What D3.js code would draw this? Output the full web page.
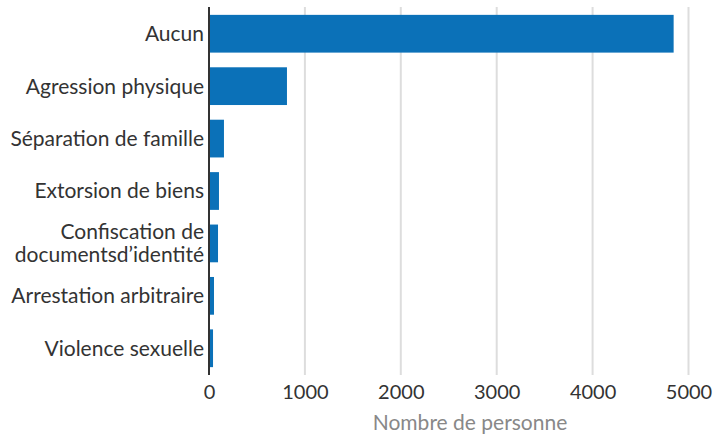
<!DOCTYPE html>
<html>
<head>
<meta charset="utf-8">
<script src="https://cdn.jsdelivr.net/npm/d3@7"></script>
<style>
  body { margin: 0; background: #fff; }
  text { font-family: Lato, "Open Sans", sans-serif; }
</style>
</head>
<body>
<script>
// data
const categories = ["Aucun", "Agression physique", "Séparation de famille", "Extorsion de biens",
  "Confiscation de\ndocumentsd’identité", "Arrestation arbitraire", "Violence sexuelle"];
const values = [4845, 813, 156, 104, 94, 52, 42];
const xTicks = [0, 1000, 2000, 3000, 4000, 5000];

let canvasW = 718;
let canvasH = 438;
let left = 209;
let right = 688.5;

let svg = d3.select("body")
  .append("svg")
    .attr("width", canvasW)
    .attr("height", canvasH);

let xScale = d3.scaleLinear()
  .domain([0, 5000])
  .range([left, right]);

let yScale = d3.scaleBand()
  .domain(categories)
  .range([7, 375])
  .paddingInner(0.28)
  .paddingOuter(0.15);

// gridlines
svg.append("g")
  .selectAll("line")
  .data(xTicks.slice(1))
  .enter()
  .append("line")
    .attr("x1", d => xScale(d))
    .attr("x2", d => xScale(d))
    .attr("y1", 7)
    .attr("y2", 375)
    .attr("stroke", "#dddddd")
    .attr("stroke-width", 2);

// bars
svg.append("g")
  .selectAll("rect")
  .data(values)
  .enter()
  .append("rect")
    .attr("x", xScale(0))
    .attr("y", (d, i) => yScale(categories[i]))
    .attr("width", d => xScale(d) - xScale(0))
    .attr("height", yScale.bandwidth())
    .attr("fill", "#0b71b8");

// y axis line
svg.append("line")
  .attr("x1", left).attr("x2", left)
  .attr("y1", 7).attr("y2", 375)
  .attr("stroke", "#333")
  .attr("stroke-width", 2);

// category labels
const labels = svg.append("g")
  .selectAll("text")
  .data(categories)
  .enter()
  .append("text")
    .attr("text-anchor", "end")
    .attr("font-size", "21px")
    .attr("fill", "#333");

labels.each(function(d) {
  let lines = d.split("\n");
  let cy = yScale(d) + yScale.bandwidth() / 2;
  let lh = 23;
  lines.forEach((l, j) => {
    d3.select(this).append("tspan")
      .attr("x", 204)
      .attr("y", cy + (j - (lines.length - 1) / 2) * lh)
      .attr("dy", "0.35em")
      .text(l);
  });
});

// x axis
const xAxis = svg.append("g")
  .attr("transform", "translate(0,375)")
  .call(d3.axisBottom(xScale).tickValues(xTicks).tickFormat(d3.format("d")).tickSize(0).tickPadding(10));
xAxis.select(".domain").remove();
xAxis.selectAll("text")
  .attr("font-family", "Lato, sans-serif")
  .attr("font-size", "20px")
  .attr("fill", "#333");

svg.append("text")
  .attr("x", 470)
  .attr("y", 430)
  .attr("text-anchor", "middle")
  .attr("font-size", "21px")
  .attr("fill", "#888")
  .text("Nombre de personne");
</script>
</body>
</html>
